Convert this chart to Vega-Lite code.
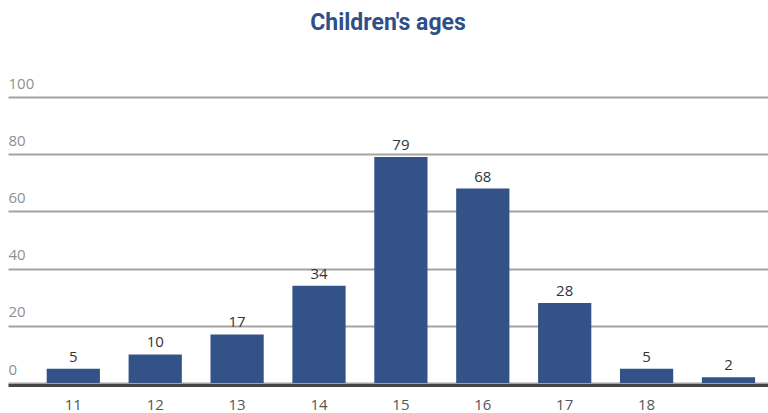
{
  "$schema": "https://vega.github.io/schema/vega-lite/v6.json",
  "autosize": "none",
  "width": 760,
  "height": 286,
  "padding": {"left": 8, "top": 97, "right": 0, "bottom": 30},
  "background": "white",
  "title": {
    "text": "Children's ages",
    "font": "Roboto",
    "fontSize": 23,
    "fontWeight": "bold",
    "color": "#2f4f86",
    "anchor": "middle",
    "baseline": "alphabetic",
    "offset": 23
  },
  "data": {
    "values": [
      {"age": "11", "count": 5},
      {"age": "12", "count": 10},
      {"age": "13", "count": 17},
      {"age": "14", "count": 34},
      {"age": "15", "count": 79},
      {"age": "16", "count": 68},
      {"age": "17", "count": 28},
      {"age": "18", "count": 5},
      {"age": "", "count": 2}
    ]
  },
  "encoding": {
    "x": {
      "field": "age",
      "type": "ordinal",
      "sort": null,
      "scale": {"paddingInner": 0.35, "paddingOuter": 0.315, "align": 0.75},
      "axis": {
        "title": null,
        "labelAngle": 0,
        "ticks": false,
        "labelPadding": 12,
        "labelFont": "Open Sans",
        "labelFontSize": 15,
        "labelColor": "#555555",
        "domainColor": "#444444",
        "domainWidth": 3,
        "offset": 2
      }
    },
    "y": {
      "field": "count",
      "type": "quantitative",
      "scale": {"domain": [0, 100]},
      "axis": {
        "title": null,
        "values": [0, 20, 40, 60, 80, 100],
        "domain": false,
        "ticks": false,
        "tickSize": 0,
        "labelPadding": 0,
        "labelAlign": "left",
        "labelBaseline": "alphabetic",
        "labelOffset": -9,
        "labelFont": "Open Sans",
        "labelFontSize": 15,
        "labelColor": "#8f8f8f",
        "gridColor": "#a3a3a3",
        "gridWidth": 2
      }
    }
  },
  "layer": [
    {"mark": {"type": "bar", "color": "#335287"}},
    {
      "mark": {"type": "text", "baseline": "alphabetic", "dy": -7, "font": "Open Sans", "fontSize": 15, "color": "#333333"},
      "encoding": {"text": {"field": "count", "type": "quantitative"}}
    }
  ],
  "config": {"view": {"stroke": null}}
}
